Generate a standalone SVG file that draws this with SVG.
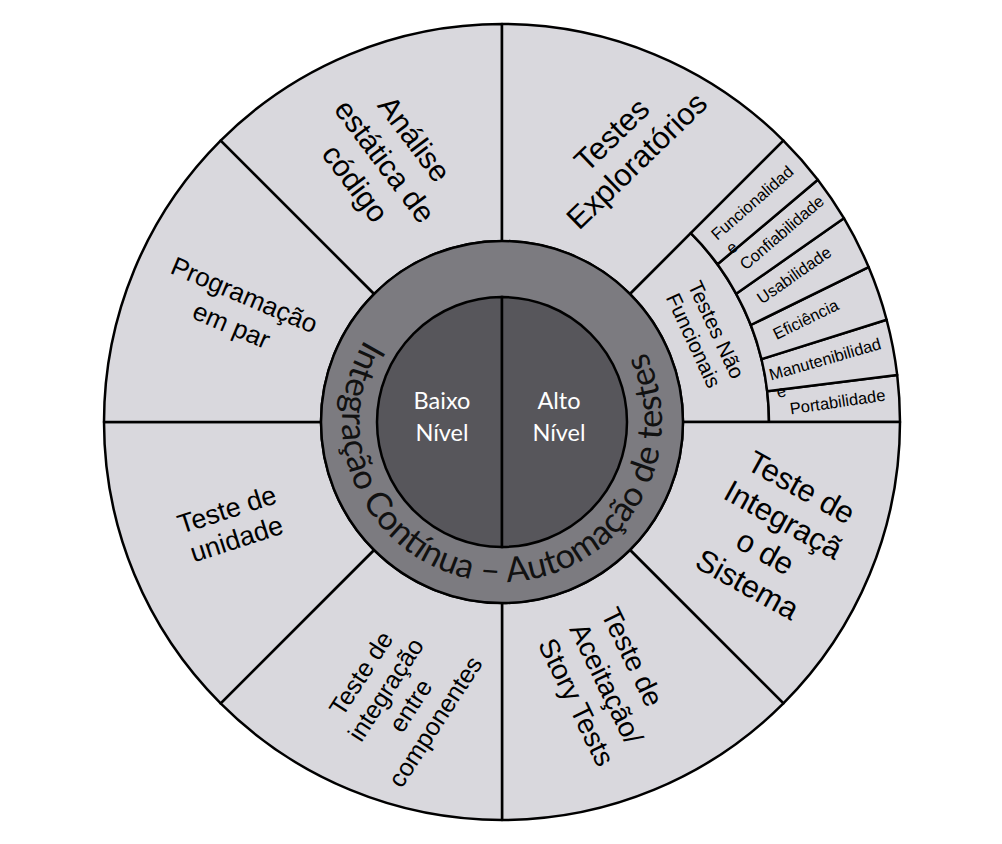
<svg xmlns="http://www.w3.org/2000/svg" width="1002" height="844" viewBox="0 0 1002 844">
<defs>
<style>
.sec{fill:#d9d8dd;stroke:#000;stroke-width:2.5;stroke-linejoin:round}
.ring{fill:#7c7b80;stroke:#000;stroke-width:2.5}
.core{fill:#57565b;stroke:#000;stroke-width:2.5}
.lbl{font-family:"Liberation Sans",Arial,sans-serif;fill:#000;text-anchor:middle}
.sm{font-family:"Liberation Sans",Arial,sans-serif;fill:#000;font-size:16.5px}
.ctr{font-family:Lato,"Open Sans",sans-serif;fill:#fff;font-size:23.5px;text-anchor:middle}
.rt{font-family:Lato,"Open Sans",sans-serif;fill:#111;font-size:34.5px}
</style>
<path id="ringPath" d="M 428.1 280.1 A 160 160 0 1 0 588.0 287.1"/>
</defs>
<rect width="1002" height="844" fill="#fff"/>

<g id="analise">
<path class="sec" d="M 220.6 140.6 A 398 398 0 0 1 502 24 L 502 241 A 181 181 0 0 0 374 294 Z"/>
<text class="lbl" font-size="30" transform="translate(385,161) rotate(53)"><tspan x="0" y="-26.5">Análise</tspan><tspan x="0" y="10.5">estática de</tspan><tspan x="0" y="47.5">código</tspan></text>
</g>
<g id="exploratorios">
<path class="sec" d="M 502 24 A 398 398 0 0 1 783.4 140.6 L 630 294 A 181 181 0 0 0 502 241 Z"/>
<text class="lbl" font-size="31" transform="translate(624,147.5) rotate(-44)"><tspan x="0" y="-7.1">Testes</tspan><tspan x="0" y="28.9">Exploratórios</tspan></text>
</g>
<g id="nao-funcionais">
<path class="sec" d="M 630 294 L 690.8 233.2 A 267 267 0 0 1 769 422 L 683 422 A 181 181 0 0 0 630 294 Z"/>
<text class="lbl" font-size="21" transform="translate(705,335) rotate(65)"><tspan x="0" y="-5.1">Testes Não</tspan><tspan x="0" y="19.9">Funcionais</tspan></text>
</g>
<g id="portabilidade">
<path class="sec" d="M 767.2 391.3 L 897.2 374.9 A 398 398 0 0 1 900 422 L 769 422 A 267 267 0 0 0 767.2 391.3 Z"/>
<text class="sm" text-anchor="middle" transform="translate(837.5,401.7) rotate(-8.3)" y="5.8">Portabilidade</text>
</g>
<g id="manutenibilidade">
<path class="sec" d="M 761.5 359.2 L 886.6 319.7 A 398 398 0 0 1 897.2 374.9 L 767.2 391.3 A 267 267 0 0 0 761.5 359.2 Z"/>
<text class="sm" transform="translate(769.4,375) rotate(-16)"><tspan x="0" y="5.8">Manutenibilidad</tspan><tspan x="2" y="24.8">e</tspan></text>
</g>
<g id="eficiencia">
<path class="sec" d="M 750.8 325 L 868.6 267.1 A 398 398 0 0 1 886.6 319.7 L 761.5 359.2 A 267 267 0 0 0 750.8 325 Z"/>
<text class="sm" text-anchor="middle" transform="translate(805.8,319.2) rotate(-26)" y="5.8">Eficiência</text>
</g>
<g id="usabilidade">
<path class="sec" d="M 736.2 293.8 L 843.9 218.2 A 398 398 0 0 1 868.6 267.1 L 750.8 325 A 267 267 0 0 0 736.2 293.8 Z"/>
<text class="sm" text-anchor="middle" transform="translate(794,275) rotate(-35)" y="5.8">Usabilidade</text>
</g>
<g id="confiabilidade">
<path class="sec" d="M 717.5 264.3 L 817.8 179.7 A 398 398 0 0 1 843.9 218.2 L 736.2 293.8 A 267 267 0 0 0 717.5 264.3 Z"/>
<text class="sm" text-anchor="middle" transform="translate(781.7,232.5) rotate(-40.5)" y="5.8">Confiabilidade</text>
</g>
<g id="funcionalidade">
<path class="sec" d="M 690.8 233.2 L 783.4 140.6 A 398 398 0 0 1 817.8 179.7 L 717.5 264.3 A 267 267 0 0 0 690.8 233.2 Z"/>
<text class="sm" transform="translate(713.4,236.6) rotate(-41.2)"><tspan x="0" y="5.8">Funcionalidad</tspan><tspan x="2" y="25.8">e</tspan></text>
</g>
<g id="sistema">
<path class="sec" d="M 900 422 A 398 398 0 0 1 783.4 703.4 L 630 550 A 181 181 0 0 0 683 422 Z"/>
<text class="lbl" font-size="31" transform="translate(774.5,535.7) rotate(29)"><tspan x="0" y="-44.6">Teste de</tspan><tspan x="0" y="-7.6">Integraçã</tspan><tspan x="0" y="29.4">o de</tspan><tspan x="0" y="66.4">Sistema</tspan></text>
</g>
<g id="aceitacao">
<path class="sec" d="M 783.4 703.4 A 398 398 0 0 1 502 820 L 502 603 A 181 181 0 0 0 630 550 Z"/>
<text class="lbl" font-size="28" style="text-anchor:start" transform="translate(569,629) rotate(64)"><tspan x="0" y="-35">Teste de</tspan><tspan x="0" y="0">Aceitação/</tspan><tspan x="0" y="35">Story Tests</tspan></text>
</g>
<g id="componentes">
<path class="sec" d="M 502 820 A 398 398 0 0 1 220.6 703.4 L 374 550 A 181 181 0 0 0 502 603 Z"/>
<text class="lbl" font-size="25" transform="translate(398,697.5) rotate(-57)"><tspan x="0" y="-35.5">Teste de</tspan><tspan x="0" y="-6">integração</tspan><tspan x="0" y="23.5">entre</tspan><tspan x="0" y="53">componentes</tspan></text>
</g>
<g id="unidade">
<path class="sec" d="M 220.6 703.4 A 398 398 0 0 1 104 422 L 321 422 A 181 181 0 0 0 374 550 Z"/>
<text class="lbl" font-size="27" transform="translate(231.7,524) rotate(-18)"><tspan x="0" y="-6">Teste de</tspan><tspan x="0" y="25">unidade</tspan></text>
</g>
<g id="programacao">
<path class="sec" d="M 104 422 A 398 398 0 0 1 220.6 140.6 L 374 294 A 181 181 0 0 0 321 422 Z"/>
<text class="lbl" font-size="26" transform="translate(238,310) rotate(23)"><tspan x="0" y="-7.4">Programação</tspan><tspan x="0" y="25.6">em par</tspan></text>
</g>

<g id="integracao-continua">
<circle class="ring" cx="502" cy="422" r="181"/>
<text class="rt"><textPath href="#ringPath" startOffset="50%" text-anchor="middle">Integração Contínua – Automação de testes</textPath></text>
</g>
<g id="baixo-nivel">
<path class="core" d="M 502 297 A 125 125 0 0 0 502 547 Z"/>
<text class="ctr"><tspan x="442" y="409">Baixo</tspan><tspan x="442" y="441">Nível</tspan></text>
</g>
<g id="alto-nivel">
<path class="core" d="M 502 297 A 125 125 0 0 1 502 547 Z"/>
<text class="ctr"><tspan x="559" y="409">Alto</tspan><tspan x="559" y="441">Nível</tspan></text>
</g>
</svg>
